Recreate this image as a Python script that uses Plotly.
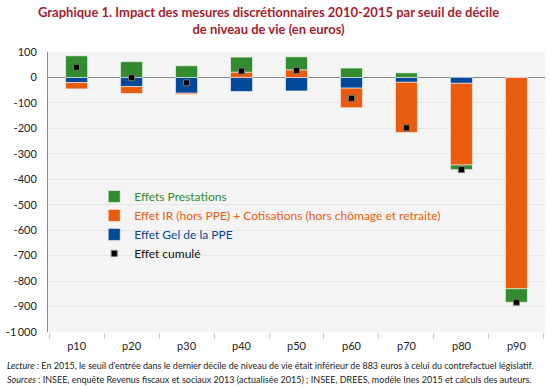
import plotly.graph_objects as go

categories = ["p10", "p20", "p30", "p40", "p50", "p60", "p70", "p80", "p90"]
prestations = [85, 62, 46, 59, 51, 37, 18, -18, -53]
ir_cotisations = [-25, -27, -5, 21, 30, -77, -197, -321, -830]
gel_ppe = [-20, -36, -62, -55, -53, -42, -19, -23, 0]
cumul = [40, -1, -21, 25, 28, -82, -198, -362, -883]

y_tickvals = [100, 0, -100, -200, -300, -400, -500, -600, -700, -800, -900, -1000]
y_ticktext = ["100", "0", "-100", "-200", "-300", "-400", "-500", "-600", "-700", "-800", "-900", "-1\u2009000"]

GREEN = "#338b2f"
ORANGE = "#e95b0f"
BLUE = "#01489a"
RED = "#a71d2f"
FONT = "Lato"

fig = go.Figure()
outline = dict(color="rgba(255,255,255,0.55)", width=1)
fig.add_trace(go.Bar(x=categories, y=gel_ppe, name=f'<span style="color:{BLUE}">Effet Gel de la PPE</span>',
                     marker=dict(color=BLUE, line=outline), width=0.4, legendrank=3))
fig.add_trace(go.Bar(x=categories, y=ir_cotisations,
                     name=f'<span style="color:{ORANGE}">Effet IR (hors PPE) + Cotisations (hors chômage et retraite)</span>',
                     marker=dict(color=ORANGE, line=outline), width=0.4, legendrank=2))
fig.add_trace(go.Bar(x=categories, y=prestations, name=f'<span style="color:{GREEN}">Effets Prestations</span>',
                     marker=dict(color=GREEN, line=outline), width=0.4, legendrank=1))
fig.add_trace(go.Scatter(x=categories, y=cumul, mode="markers", name="Effet cumulé",
                         marker=dict(symbol="square", size=6, color="black", line=dict(color="#777", width=1)),
                         legendrank=4))

fig.update_layout(
    width=550, height=387,
    margin=dict(l=48, r=5, t=52, b=55),
    barmode="relative",
    paper_bgcolor="white",
    plot_bgcolor="#f4f4f4",
    font=dict(family=FONT, size=11, color="#222"),
    showlegend=True,
    legend=dict(
        x=0.093, y=0.536, xanchor="left", yanchor="top",
        bgcolor="rgba(0,0,0,0)", borderwidth=0,
        traceorder="normal",
        font=dict(family=FONT, size=12, color="#111"),
    ),
    xaxis=dict(
        type="category",
        tickson="boundaries", ticks="outside", ticklen=6, tickcolor="#cccccc",
        showgrid=False, showline=False, zeroline=False,
        ticklabelstandoff=6,
        tickfont=dict(size=11, color="#222"),
    ),
    yaxis=dict(
        range=[-1000, 100],
        tickvals=y_tickvals, ticktext=y_ticktext,
        showgrid=True, gridcolor="#e6e6e6", gridwidth=1,
        zeroline=True, zerolinecolor="#888888", zerolinewidth=1.3,
        showline=True, linecolor="#888888", linewidth=1,
        ticks="", ticklabelstandoff=8,
        tickfont=dict(size=11, color="#222"),
    ),
    annotations=[
        dict(text="<b>Graphique 1. Impact des mesures discrétionnaires 2010-2015 par seuil de décile<br>de niveau de vie (en euros)</b>",
             xref="paper", yref="paper", x=0.4446, y=1.112, xanchor="center", yanchor="middle",
             showarrow=False, font=dict(family=FONT, size=13, color=RED)),
        dict(text="<i>Lecture</i> : En 2015, le seuil d'entrée dans le dernier décile de niveau de vie était inférieur de 883 euros à celui du contrefactuel législatif.",
             xref="paper", yref="paper", x=-0.0858, y=-0.1207, xanchor="left", yanchor="middle",
             showarrow=False, font=dict(family=FONT, size=9, color="#222")),
        dict(text="<i>Sources</i> : INSEE, enquête Revenus fiscaux et sociaux 2013 (actualisée 2015) ; INSEE, DREES, modèle Ines 2015 et calculs des auteurs.",
             xref="paper", yref="paper", x=-0.0858, y=-0.1707, xanchor="left", yanchor="middle",
             showarrow=False, font=dict(family=FONT, size=9, color="#222")),
    ],
)

fig.write_html("out.html", config={"displayModeBar": False},
               post_script="document.body.style.margin='0';document.body.style.overflow='hidden';")
